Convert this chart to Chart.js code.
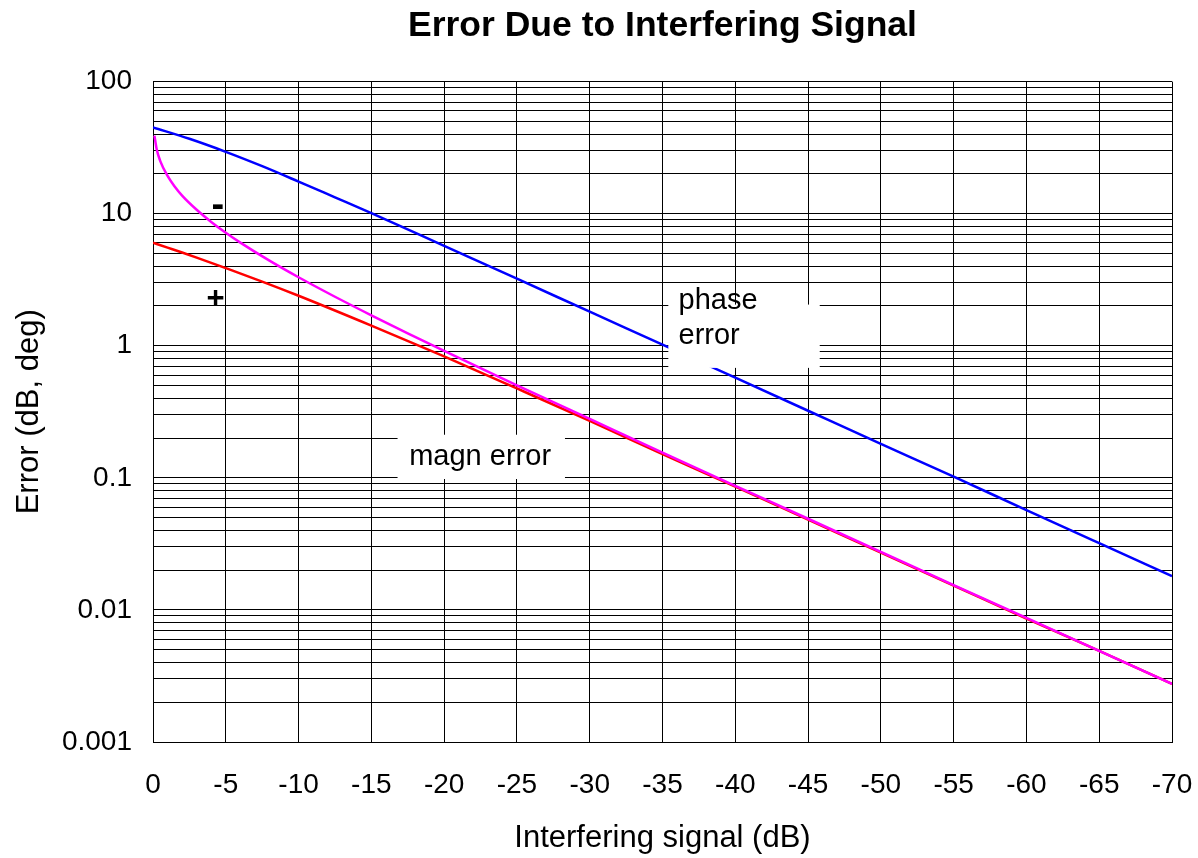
<!DOCTYPE html>
<html>
<head>
<meta charset="utf-8">
<script src="https://cdn.jsdelivr.net/npm/chart.js@4"></script>
<style>
  html, body { margin: 0; padding: 0; background: #fff; }
  #wrap { width: 1198px; height: 858px; }
</style>
</head>
<body>
<div id="wrap"><canvas id="errChart" width="1198" height="858"></canvas></div>
<script>
// DATA

// x = interfering signal (dB), y = error
const phaseX = [0, -2.5, -5, -7.5, -10, -12.5, -15, -20, -25, -30, -35, -40, -45, -50, -55, -60, -65, -70];
const phaseY = [45, 36.9, 29.4, 22.9, 17.5, 13.3, 10.1, 5.7, 3.22, 1.81, 1.02, 0.573, 0.322, 0.181, 0.102, 0.057, 0.032, 0.018];

const magPlusX = [0, -1, -2, -3, -5, -7.5, -10, -15, -20, -25, -30, -35, -40, -45, -50, -55, -60, -65, -70];
const magPlusY = [6.02, 5.53, 5.08, 4.65, 3.87, 3.06, 2.39, 1.42, 0.83, 0.475, 0.27, 0.151, 0.0858, 0.0483, 0.0272, 0.0153, 0.0086, 0.0049, 0.00275];

const magMinusX = [-0.1, -0.25, -0.5, -1, -1.5, -2, -3, -4, -5, -6, -8, -10, -12.5, -15, -17.5, -20, -25, -30, -35, -40, -45, -50, -55, -60, -65, -70];
const magMinusY = [39, 30.9, 25.0, 19.3, 16.0, 13.7, 10.7, 8.66, 7.17, 6.04, 4.41, 3.30, 2.35, 1.70, 1.24, 0.915, 0.502, 0.279, 0.155, 0.087, 0.049, 0.0275, 0.0154, 0.0087, 0.0049, 0.00275];

// y axis: decades labelled, minor grid at 2..9
const yDecades = [0.001, 0.01, 0.1, 1, 10, 100];
const yTickLabels = ["0.001", "0.01", "0.1", "1", "10", "100"];

// text notes on the plot (data coords)
const notes = [
    { lines: ["phase", "error"], box: [-35.4, 2.05, -45.8, 0.68], x: -36.1, y: 1.6 },
    { lines: ["magn error"], box: [-16.8, 0.212, -28.3, 0.098], x: -17.6, y: 0.145 }
];
const signs = [
    { text: "-", x: -4.45, y: 11.3, size: 38 },
    { text: "+", x: -4.3, y: 2.25, size: 31 }
];

// BUILD

const toPoints = (xs, ys) => xs.map((x, i) => ({ x: x, y: ys[i] }));

const FONT = "'Liberation Sans', Arial, sans-serif";

const notesPlugin = {
    id: "notes",
    afterDatasetsDraw(chart) {
        const ctx = chart.ctx;
        const xs = chart.scales.x;
        const ys = chart.scales.y;
        ctx.save();
        notes.forEach(n => {
            const x1 = xs.getPixelForValue(n.box[0]);
            const y1 = ys.getPixelForValue(n.box[1]);
            const x2 = xs.getPixelForValue(n.box[2]);
            const y2 = ys.getPixelForValue(n.box[3]);
            ctx.fillStyle = "#fff";
            ctx.fillRect(x1, y1, x2 - x1, y2 - y1);
            ctx.fillStyle = "#000";
            ctx.font = "29px " + FONT;
            ctx.textBaseline = "middle";
            ctx.textAlign = "left";
            const tx = xs.getPixelForValue(n.x);
            const ty = ys.getPixelForValue(n.y);
            const lh = 35;
            n.lines.forEach((t, i) => {
                ctx.fillText(t, tx, ty + (i - (n.lines.length - 1) / 2) * lh);
            });
        });
        signs.forEach(s => {
            ctx.fillStyle = "#000";
            ctx.font = "bold " + s.size + "px " + FONT;
            ctx.textAlign = "center";
            ctx.textBaseline = "middle";
            ctx.fillText(s.text, xs.getPixelForValue(s.x), ys.getPixelForValue(s.y));
        });
        ctx.restore();
    }
};

new Chart(document.getElementById("errChart"), {
    type: "line",
    data: {
        datasets: [
            {
                label: "magn error -",
                data: toPoints(magMinusX, magMinusY),
                borderColor: "#ff00ff",
                borderWidth: 2.5,
                pointRadius: 0,
                cubicInterpolationMode: "monotone",
                order: 0
            },
            {
                label: "magn error +",
                data: toPoints(magPlusX, magPlusY),
                borderColor: "#ff0000",
                borderWidth: 2.5,
                pointRadius: 0,
                cubicInterpolationMode: "monotone",
                order: 1
            },
            {
                label: "phase error",
                data: toPoints(phaseX, phaseY),
                borderColor: "#0000ff",
                borderWidth: 2.5,
                pointRadius: 0,
                cubicInterpolationMode: "monotone",
                order: 2
            }
        ]
    },
    options: {
        responsive: false,
        animation: false,
        layout: { padding: { left: 0, right: 26, top: 0, bottom: 0 } },
        plugins: {
            legend: { display: false },
            tooltip: { enabled: false },
            title: {
                display: true,
                fullSize: false,
                text: "Error Due to Interfering Signal",
                color: "#000",
                font: { family: FONT, size: 35.5, weight: "bold" },
                padding: { top: 5, bottom: 34 }
            }
        },
        scales: {
            x: {
                type: "linear",
                min: -70,
                max: 0,
                reverse: true,
                border: { color: "#000", width: 1 },
                grid: { color: "#000", lineWidth: 1, drawTicks: false },
                ticks: {
                    stepSize: 5,
                    color: "#000",
                    padding: 26,
                    maxRotation: 0,
                    font: { family: FONT, size: 28 }
                },
                title: {
                    display: true,
                    text: "Interfering signal (dB)",
                    color: "#000",
                    font: { family: FONT, size: 31 },
                    padding: { top: 0, bottom: 1 }
                },
                afterFit(scale) {
                    scale.height = 116;
                    scale.paddingLeft = 0;
                    scale.paddingRight = 0;
                }
            },
            y: {
                type: "logarithmic",
                min: 0.001,
                max: 100,
                border: { color: "#000", width: 1 },
                grid: { color: "#000", lineWidth: 1, drawTicks: false },
                afterBuildTicks(scale) {
                    const t = [];
                    yDecades.forEach((d, i) => {
                        const top = i === yDecades.length - 1 ? 1 : 9;
                        for (let k = 1; k <= top; k++) t.push({ value: d * k });
                    });
                    scale.ticks = t;
                },
                ticks: {
                    color: "#000",
                    padding: 21,
                    autoSkip: false,
                    font: { family: FONT, size: 28 },
                    callback(value) {
                        const i = yDecades.findIndex(d => Math.abs(value - d) / d < 1e-6);
                        return i >= 0 ? yTickLabels[i] : "";
                    }
                },
                title: {
                    display: true,
                    text: "Error (dB, deg)",
                    color: "#000",
                    font: { family: FONT, size: 31 },
                    padding: { top: 11, bottom: 0 }
                },
                afterFit(scale) { scale.width = 153; }
            }
        }
    },
    plugins: [notesPlugin]
});
</script>
</body>
</html>
